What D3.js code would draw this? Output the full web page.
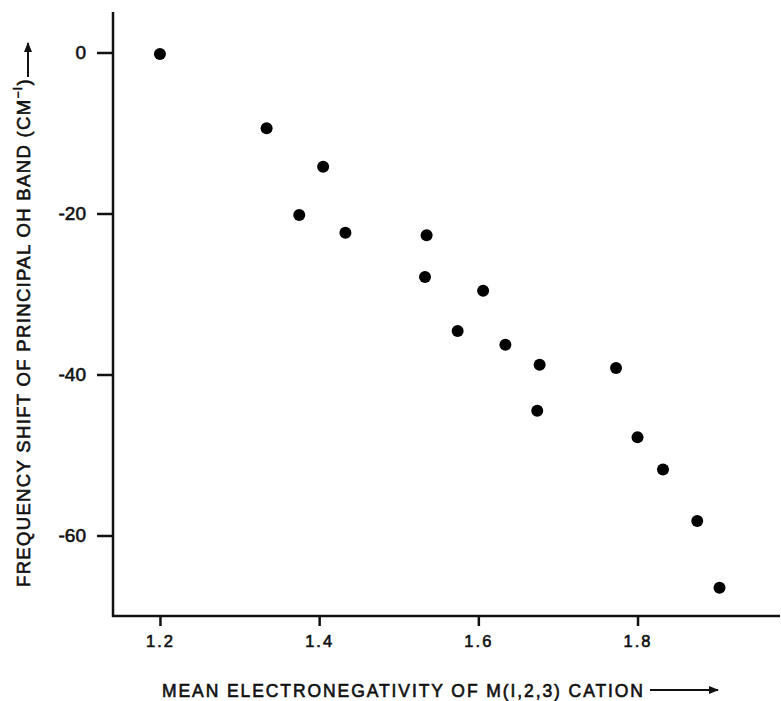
<!DOCTYPE html>
<html>
<head>
<meta charset="utf-8">
<script src="https://cdn.jsdelivr.net/npm/d3@7"></script>
<style>
  html, body { margin: 0; padding: 0; background: #fff; }
  svg { display: block; }
  text { font-family: "Liberation Sans", "DejaVu Sans", Arial, sans-serif; fill: #111; stroke: #111; stroke-width: 0.6px; }
</style>
</head>
<body>
<svg id="chart" width="781" height="701"></svg>
<script>
// ---- data ----
const electronegativity = [1.20, 1.334, 1.405, 1.375, 1.433, 1.535, 1.533, 1.606, 1.574, 1.634, 1.677, 1.773, 1.674, 1.800, 1.832, 1.875, 1.903];
const frequencyShift    = [-0.2, -9.4, -14.2, -20.2, -22.4, -22.7, -27.9, -29.6, -34.6, -36.3, -38.8, -39.2, -44.5, -47.8, -51.8, -58.2, -66.5];
const xTicks = [1.2, 1.4, 1.6, 1.8];
const yTicks = [0, -20, -40, -60];
const xTitle = "MEAN ELECTRONEGATIVITY OF M(I,2,3) CATION";
const yTitleMain = "FREQUENCY SHIFT OF PRINCIPAL OH BAND (CM";
const yTitleSup = "\u2212I";
const yTitleEnd = ")";

const svg = d3.select("#chart");
const mLeft = 113, mRight = 780, mTop = 12, mBottom = 616;

const x = d3.scaleLinear().domain([1.141, 1.979]).range([mLeft, mRight]);
const y = d3.scaleLinear().domain([-70, 5.03]).range([mBottom, mTop]);

// arrow marker
svg.append("defs").append("marker")
  .attr("id", "arrow").attr("viewBox", "0 0 10 10")
  .attr("refX", 9).attr("refY", 5)
  .attr("markerWidth", 10).attr("markerHeight", 10)
  .attr("markerUnits", "userSpaceOnUse")
  .attr("orient", "auto")
  .append("path").attr("d", "M0,1 L10,5 L0,9 Z").attr("fill", "#111");

// y axis
const yAxis = svg.append("g")
  .attr("transform", `translate(${mLeft},0)`)
  .call(d3.axisLeft(y).tickValues(yTicks).tickSize(16).tickPadding(11)
        .tickFormat(d => d === 0 ? "0" : "-" + Math.abs(d)));
yAxis.select(".domain").remove();
yAxis.selectAll(".tick line").attr("stroke", "#111").attr("stroke-width", 2.5);
yAxis.selectAll(".tick text").attr("font-size", 19).attr("fill", "#111")
  .style("font-family", "'Liberation Sans', Arial, sans-serif");
svg.append("line").attr("x1", mLeft).attr("x2", mLeft).attr("y1", mTop).attr("y2", mBottom + 1)
  .attr("stroke", "#111").attr("stroke-width", 2.5);

// x axis
const xAxis = svg.append("g")
  .attr("transform", `translate(0,${mBottom})`)
  .call(d3.axisBottom(x).tickValues(xTicks).tickSize(10).tickPadding(9)
        .tickFormat(d3.format(".1f")));
xAxis.select(".domain").remove();
xAxis.selectAll(".tick line").attr("stroke", "#111").attr("stroke-width", 2.5);
xAxis.selectAll(".tick text").attr("font-size", 16.5).attr("fill", "#111")
  .attr("letter-spacing", "2px")
  .style("font-family", "'Liberation Sans', Arial, sans-serif");
svg.append("line").attr("x1", mLeft - 1).attr("x2", mRight).attr("y1", mBottom).attr("y2", mBottom)
  .attr("stroke", "#111").attr("stroke-width", 2.5);

// points
svg.append("g").selectAll("circle")
  .data(electronegativity.map((v, i) => [v, frequencyShift[i]]))
  .join("circle")
  .attr("cx", d => x(d[0])).attr("cy", d => y(d[1]))
  .attr("r", 6).attr("fill", "#000");

// x title
svg.append("text")
  .attr("x", 162).attr("y", 697)
  .attr("font-size", 17.5)
  .attr("textLength", 481).attr("lengthAdjust", "spacing")
  .text(xTitle);
svg.append("line").attr("x1", 650).attr("x2", 718).attr("y1", 690).attr("y2", 690)
  .attr("stroke", "#111").attr("stroke-width", 1.8).attr("marker-end", "url(#arrow)");

// y title (rotated)
const yt = svg.append("text")
  .attr("transform", "translate(30,587) rotate(-90)")
  .attr("font-size", 18.5);
yt.append("tspan").text(yTitleMain);
yt.append("tspan").attr("font-size", 12).attr("dy", -8).text(yTitleSup);
yt.append("tspan").attr("dy", 8).text(yTitleEnd);
const natural = yt.node().getComputedTextLength();
const nChars = (yTitleMain + yTitleSup + yTitleEnd).length;
const target = 587 - 78;
yt.attr("letter-spacing", ((target - natural) / nChars) + "px");

svg.append("line").attr("x1", 28).attr("x2", 28).attr("y1", 77).attr("y2", 43)
  .attr("stroke", "#111").attr("stroke-width", 2).attr("marker-end", "url(#arrow)");
</script>
</body>
</html>
